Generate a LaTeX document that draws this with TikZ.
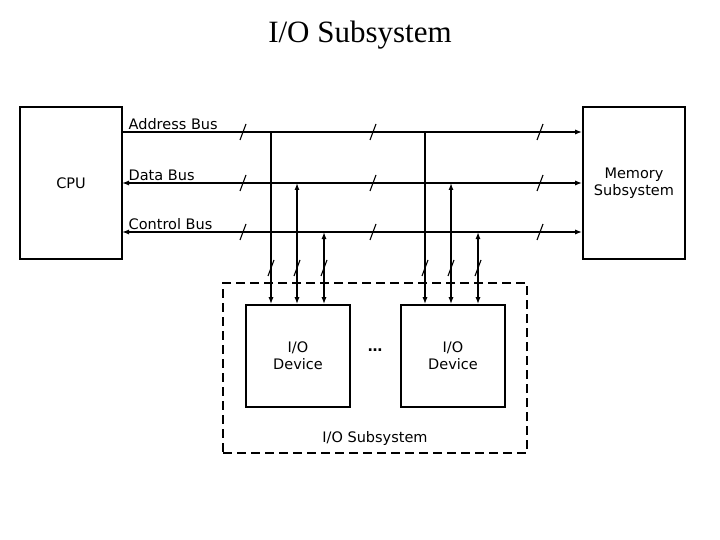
\documentclass[tikz,border=0pt]{standalone}
\usepackage{fontspec}
\setmainfont{Liberation Serif}
\newfontfamily\labelfont{DejaVu Sans}
\usetikzlibrary{arrows.meta,positioning,calc}
\tikzset{
  unit/.style={draw, line width=1.6pt, inner sep=0pt, font=\labelfont\fontsize{14.5}{17}\selectfont, align=center},
  bus/.style={line width=1.3pt},
  slash/.style={line width=1.1pt}
}
\begin{document}
\begin{tikzpicture}[x=1pt, y=-1pt, >={Latex[length=7pt,width=5pt]}, font=\labelfont\fontsize{14.5}{17}\selectfont]
 \useasboundingbox (0,0) rectangle (720,540);
 \node at (360,35) {\rmfamily\fontsize{31}{34}\selectfont I/O Subsystem};

 \node[unit, minimum width=102pt, minimum height=152pt] (cpu) at (71,183) {CPU};
 \node[unit, minimum width=102pt, minimum height=152pt] (mem) at (634,183) {Memory\\Subsystem};
 \node[draw, line width=1.2pt, dash pattern=on 9pt off 5pt, minimum width=304pt, minimum height=170pt] (iosub) at (375,368) {};
 \node[unit, minimum width=104pt, minimum height=102pt] (dev1) at (298,356) {I/O\\Device};
 \node[unit, minimum width=104pt, minimum height=102pt] (dev2) at (453,356) {I/O\\Device};
 \node (dots) at (375,350) {\textbf{\dots}};
 \node[anchor=south] (iolabel) at (375,449) {I/O Subsystem};

 % buses
 \coordinate (a) at (122,132); \coordinate (d) at (122,183); \coordinate (c) at (122,232);
 \draw[bus,->] (a) -- (a -| mem.west) node[pos=0,anchor=south west,inner sep=2pt,xshift=4pt] {Address Bus};
 \draw[bus,<->] (d) -- (d -| mem.west) node[pos=0,anchor=south west,inner sep=2pt,xshift=4pt] {Data Bus};
 \draw[bus,<->] (c) -- (c -| mem.west) node[pos=0,anchor=south west,inner sep=2pt,xshift=4pt] {Control Bus};
 \foreach \y in {132,183,232}
  \foreach \x in {243,373,540}
   \draw[slash] (\x-3,\y+8) -- (\x+3,\y-8);

 % device taps
 \foreach \dx/\dev in {271/dev1,425/dev2}{
  \draw[bus,->] (\dx,132) -- (\dx,0 |- \dev.north);
  \draw[bus,<->] (\dx+26,183) -- (\dx+26,0 |- \dev.north);
  \draw[bus,<->] (\dx+53,232) -- (\dx+53,0 |- \dev.north);
  \foreach \o in {0,26,53}
   \draw[slash] (\dx+\o-3,276) -- (\dx+\o+3,260);
 }
\end{tikzpicture}
\end{document}
